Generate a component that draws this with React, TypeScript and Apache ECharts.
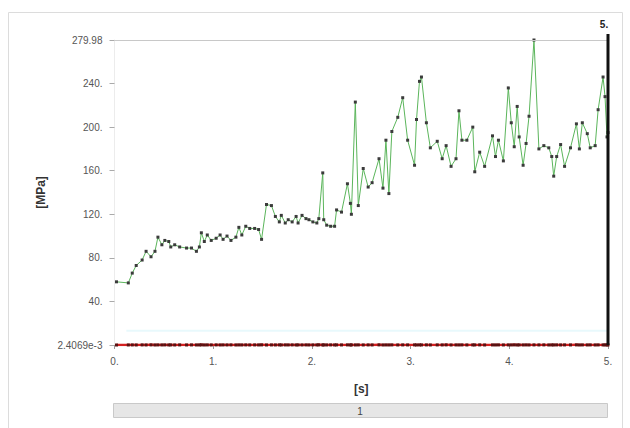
import React, { useEffect, useRef } from "react";
import * as echarts from "echarts";

const times = [
  0.02, 0.14, 0.18, 0.22, 0.28, 0.32, 0.37, 0.41, 0.44, 0.48, 0.51, 0.55, 0.57, 0.61,
  0.66, 0.73, 0.78, 0.83, 0.86, 0.88, 0.91, 0.94, 0.98, 1.03, 1.07, 1.1, 1.14, 1.18,
  1.23, 1.26, 1.29, 1.33, 1.37, 1.42, 1.46, 1.49, 1.54, 1.59, 1.63, 1.67, 1.69, 1.73,
  1.76, 1.8, 1.84, 1.86, 1.9, 1.94, 1.97, 2.01, 2.05, 2.07, 2.11, 2.12, 2.15, 2.19,
  2.23, 2.25, 2.3, 2.36, 2.39, 2.4, 2.44, 2.47, 2.52, 2.57, 2.61, 2.68, 2.72, 2.75,
  2.78, 2.81, 2.87, 2.92, 2.97, 3.04, 3.06, 3.09, 3.11, 3.16, 3.2, 3.27, 3.32, 3.36,
  3.41, 3.46, 3.49, 3.52, 3.57, 3.63, 3.65, 3.7, 3.75, 3.83, 3.86, 3.89, 3.94, 3.99,
  4.02, 4.05, 4.08, 4.1, 4.14, 4.17, 4.2, 4.25, 4.3, 4.35, 4.4, 4.43, 4.45, 4.48,
  4.52, 4.56, 4.62, 4.68, 4.71, 4.74, 4.79, 4.82, 4.87, 4.9, 4.95, 4.97, 4.99, 5.0,
];

const stress = [
  58, 57, 66, 73, 78, 86, 81, 86, 99, 92, 96, 95, 90, 92,
  90, 89, 89, 86, 90, 103, 95, 101, 96, 98, 101, 97, 100, 96,
  99, 108, 101, 109, 107, 107, 106, 97, 129, 128, 118, 113, 119, 112,
  115, 113, 118, 112, 119, 116, 115, 113, 112, 116, 158, 115, 110, 109,
  109, 124, 122, 148, 130, 120, 223, 128, 162, 145, 149, 171, 144, 188,
  139, 196, 209, 227, 188, 165, 207, 242, 246, 204, 181, 187, 171, 183,
  164, 171, 215, 188, 188, 200, 159, 177, 164, 192, 173, 188, 169, 236,
  204, 182, 219, 191, 165, 185, 210, 279.98, 180, 183, 181, 173, 155, 173,
  184, 164, 181, 203, 180, 204, 194, 181, 183, 216, 246, 228, 191, 195,
];

const redValues = [
  0.0024069, 0.05, 0.08, 0.04, 0.1, 0.06, 0.12, 0.03, 0.09, 0.07, 0.11, 0.05, 0.08, 0.04,
  0.1, 0.06, 0.09, 0.05, 0.07, 0.12, 0.04, 0.08, 0.06, 0.1, 0.05, 0.09, 0.07, 0.11,
  0.04, 0.08, 0.06, 0.1, 0.05, 0.09, 0.07, 0.12, 0.04, 0.08, 0.06, 0.1, 0.05, 0.09,
  0.07, 0.11, 0.04, 0.08, 0.06, 0.1, 0.05, 0.09, 0.07, 0.12, 0.04, 0.08, 0.06, 0.1,
  0.05, 0.09, 0.07, 0.11, 0.04, 0.08, 0.06, 0.1, 0.05, 0.09, 0.07, 0.12, 0.04, 0.08,
  0.06, 0.1, 0.05, 0.09, 0.07, 0.11, 0.04, 0.08, 0.06, 0.1, 0.05, 0.09, 0.07, 0.12,
  0.04, 0.08, 0.06, 0.1, 0.05, 0.09, 0.07, 0.11, 0.04, 0.08, 0.06, 0.1, 0.05, 0.09,
  0.07, 0.12, 0.04, 0.08, 0.06, 0.1, 0.05, 0.09, 0.07, 0.11, 0.04, 0.08, 0.06, 0.1,
  0.05, 0.09, 0.07, 0.12, 0.04, 0.08, 0.06, 0.1, 0.05, 0.09, 0.07, 0.11, 0.04, 0.08,
];

const cyanTimes = [0.12, 5.0];
const cyanValues = [13, 13];

const yMin = 0.0024069;
const yMax = 279.98;
const yTickValues = [0.0024069, 40, 80, 120, 160, 200, 240, 279.98];
const yTickLabels = ["2.4069e-3", "40.", "80.", "120.", "160.", "200.", "240.", "279.98"];
const xTickLabels = ["0.", "1.", "2.", "3.", "4.", "5."];
const cursorTime = 5;
const cursorLabel = "5.";
const timelineLabel = "1";

const FONT = "'Liberation Sans', Arial, sans-serif";

export default function App() {
  const ref = useRef<HTMLDivElement>(null);

  useEffect(() => {
    if (!ref.current) return;
    const chart = echarts.init(ref.current, null, { renderer: "svg" });

    const staticGraphics: any[] = [
      {
        type: "rect",
        shape: { x: 8.5, y: 12.5, width: 614, height: 430 },
        style: { fill: "none", stroke: "#dcdcdc", lineWidth: 1 },
        silent: true,
        z: 0,
      },
      {
        type: "rect",
        shape: { x: 113.5, y: 403.5, width: 494, height: 14 },
        style: { fill: "#e6e6e6", stroke: "#c9c9c9", lineWidth: 1 },
        silent: true,
      },
      {
        type: "text",
        x: 360,
        y: 411,
        style: {
          text: timelineLabel,
          fill: "#444",
          font: `10px ${FONT}`,
          align: "center",
          verticalAlign: "middle",
        },
        silent: true,
      },
    ];

    const option: any = {
      animation: false,
      backgroundColor: "#ffffff",
      grid: { left: 114.5, right: 22, top: 40, bottom: 83, containLabel: false },
      xAxis: {
        type: "value",
        min: 0,
        max: 5,
        interval: 1,
        name: "[s]",
        nameLocation: "middle",
        nameGap: 38,
        nameTextStyle: { fontFamily: FONT, fontWeight: "bold", fontSize: 12, color: "#333" },
        axisLine: { show: true, lineStyle: { color: "#bbbbbb" } },
        axisTick: { show: true, length: 4, lineStyle: { color: "#999" } },
        axisLabel: {
          fontFamily: FONT,
          fontSize: 10,
          color: "#555",
          margin: 11,
          formatter: (v: number) => xTickLabels[Math.round(v)] ?? "",
        },
        splitLine: { show: false },
      },
      yAxis: {
        type: "value",
        min: yMin,
        max: yMax,
        name: "[MPa]",
        nameLocation: "middle",
        nameRotate: 90,
        nameGap: 68,
        nameTextStyle: { fontFamily: FONT, fontWeight: "bold", fontSize: 12, color: "#333" },
        axisLine: { show: true, lineStyle: { color: "#ececec" } },
        axisTick: {
          show: true,
          length: 5,
          customValues: yTickValues,
          lineStyle: { color: "#aaa" },
        },
        axisLabel: {
          fontFamily: FONT,
          fontSize: 10,
          color: "#555",
          margin: 12,
          customValues: yTickValues,
          formatter: (v: number) => {
            const i = yTickValues.indexOf(v);
            return i >= 0 ? yTickLabels[i] : "";
          },
        },
        splitLine: { show: false },
      },
      series: [
        {
          name: "cyan",
          type: "line",
          data: cyanTimes.map((t, i) => [t, cyanValues[i]]),
          showSymbol: false,
          lineStyle: { color: "#e8f9fc", width: 2 },
          silent: true,
          z: 1,
          markLine: {
            silent: true,
            symbol: "none",
            label: { show: false },
            lineStyle: { color: "#c8c8c8", width: 1, type: "solid" },
            data: [{ yAxis: yMax }],
          },
        },
        {
          name: "red",
          type: "line",
          data: times.map((t, i) => [t, redValues[i]]),
          showSymbol: true,
          symbol: "rect",
          symbolSize: 3,
          itemStyle: { color: "#5a1212" },
          lineStyle: { color: "#d42020", width: 2.5 },
          z: 3,
        },
        {
          name: "green",
          type: "line",
          data: times.map((t, i) => [t, stress[i]]),
          showSymbol: true,
          symbol: "rect",
          symbolSize: 3,
          itemStyle: { color: "#3b3b3b" },
          lineStyle: { color: "#5bb55b", width: 1 },
          z: 4,
        },
      ],
      graphic: staticGraphics,
    };

    chart.setOption(option);

    const pTop = chart.convertToPixel({ gridIndex: 0 }, [cursorTime, yMax]) as number[];
    const pBot = chart.convertToPixel({ gridIndex: 0 }, [cursorTime, yMin]) as number[];
    chart.setOption({
      graphic: [
        ...staticGraphics,
        {
          type: "line",
          shape: { x1: pTop[0], y1: pTop[1] - 6, x2: pBot[0], y2: pBot[1] },
          style: { stroke: "#111", lineWidth: 3 },
          silent: true,
          z: 10,
        },
        {
          type: "text",
          x: pTop[0] - 4,
          y: pTop[1] - 16,
          style: {
            text: cursorLabel,
            fill: "#222",
            font: `bold 10px ${FONT}`,
            align: "center",
            verticalAlign: "middle",
          },
          silent: true,
          z: 10,
        },
      ],
    });

    return () => chart.dispose();
  }, []);

  return (
    <div
      ref={ref}
      style={{ position: "fixed", left: 0, top: 0, width: 630, height: 428, background: "#fff" }}
    />
  );
}
